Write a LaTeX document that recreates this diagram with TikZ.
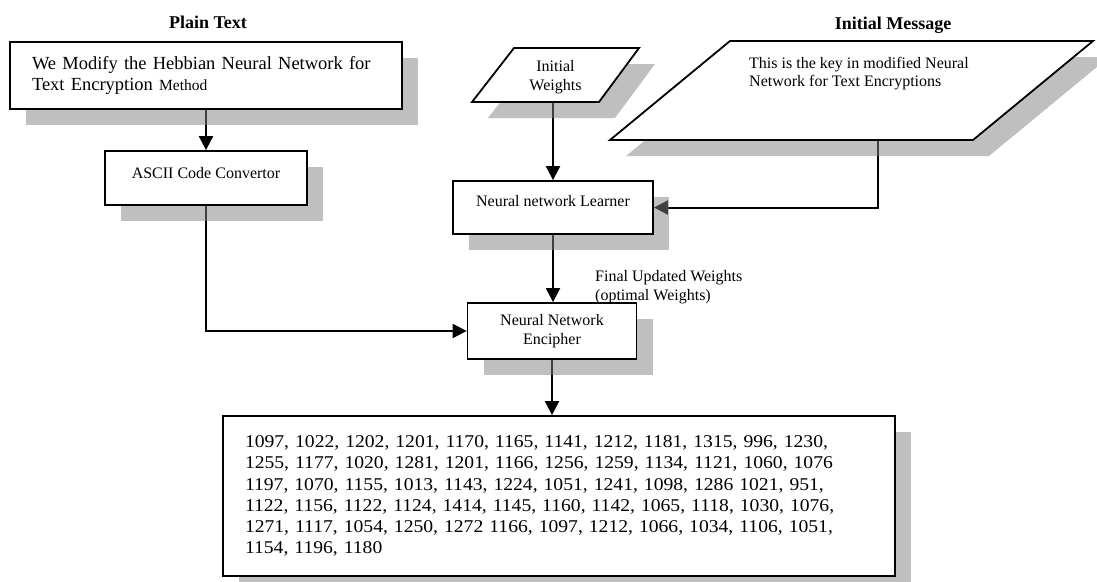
\documentclass[tikz,border=0pt]{standalone}
\usepackage{fontspec}
\setmainfont{Liberation Serif}
\newfontfamily\numfont[FakeStretch=1.09]{Liberation Serif}
\usetikzlibrary{shadows,arrows.meta,backgrounds}
\tikzset{
  shadefill/.style={fill=black!50, fill opacity=0.5},
  blk/.style={draw, line width=1.8pt, fill=white, inner sep=0pt,
    general shadow={shadefill, shadow xshift=16pt, shadow yshift=-16pt},
    font=\fontsize{16}{19}\selectfont},
  iopath/.style={draw, line width=1.8pt, fill=white},
  flow/.style={line width=2pt, -{Triangle[length=14pt,width=14pt]}},
  heading/.style={font=\fontsize{18}{21}\selectfont\bfseries}
}
\begin{document}
\begin{tikzpicture}[x=1pt,y=-1pt]
\useasboundingbox (0,0) rectangle (1097,581);
\node [heading] (plaintitle) at (208,22) {Plain Text};
\node [heading] (msgtitle) at (893,25) {Initial Message};
\node [blk, minimum width=392pt, minimum height=67pt, text width=348pt, inner xsep=22pt, align=left, font=\fontsize{18.5}{21}\selectfont] (plain) at (206,75.5) {We Modify the Hebbian Neural Network for\\Text Encryption {\fontsize{15.5}{21}\selectfont Method}};
\node [blk, minimum width=202pt, minimum height=54pt, text depth=10pt] (ascii) at (206,178) {ASCII Code Convertor};
% input parallelograms
\fill [shadefill, shift={(16,16)}] (472,102) -- (599,102) -- (639,48) -- (514,48) -- cycle;
\draw [iopath] (472,102) -- (599,102) -- (639,48) -- (514,48) -- cycle;
\node [align=center, font=\fontsize{16}{19}\selectfont] (weights) at (555.5,77.5) {Initial\\Weights};
\fill [shadefill, shift={(16,16)}] (610,140) -- (973,140) -- (1093,41) -- (730,41) -- cycle;
\draw [iopath] (610,140) -- (973,140) -- (1093,41) -- (730,41) -- cycle;
\node [anchor=west, align=left, inner sep=0pt, font=\fontsize{16}{18}\selectfont] (msgtext) at (749,74) {This is the key in modified Neural\\Network for Text Encryptions};
\coordinate (msgfoot) at (878,140);
\node [blk, minimum width=200pt, minimum height=53pt, text depth=13pt] (learner) at (553,207.5) {Neural network Learner};
\node [blk, minimum width=169pt, minimum height=56pt, align=center] (enc) at (552,331) {Neural Network\\Encipher};
\node [anchor=west, align=left, inner sep=0pt, font=\fontsize{16}{19}\selectfont] (wlabel) at (595,287.5) {Final Updated Weights\\(optimal Weights)};
\node [blk, minimum width=672pt, minimum height=160pt, text width=628pt, inner xsep=22pt, align=left, font=\numfont\fontsize{18}{21.2}\selectfont] (out) at (559,496) {1097, 1022, 1202, 1201, 1170, 1165, 1141, 1212, 1181, 1315, 996, 1230,\\
1255, 1177, 1020, 1281, 1201, 1166, 1256, 1259, 1134, 1121, 1060, 1076\\
1197, 1070, 1155, 1013, 1143, 1224, 1051, 1241, 1098, 1286 1021, 951,\\
1122, 1156, 1122, 1124, 1414, 1145, 1160, 1142, 1065, 1118, 1030, 1076,\\
1271, 1117, 1054, 1250, 1272 1166, 1097, 1212, 1066, 1034, 1106, 1051,\\
1154, 1196, 1180};
% connectors go under the shadows
\begin{pgfonlayer}{background}
\draw [flow] (plain) -- (ascii);
\draw [flow] (weights.south -| learner.north) -- (learner.north);
\draw [flow] (learner.south) -- (learner.south |- enc.north);
\draw [flow] (enc) -- (enc.south |- out.north);
\draw [flow] (ascii) |- (enc);
\draw [flow] (msgfoot) |- (learner);
\end{pgfonlayer}
\end{tikzpicture}
\end{document}
